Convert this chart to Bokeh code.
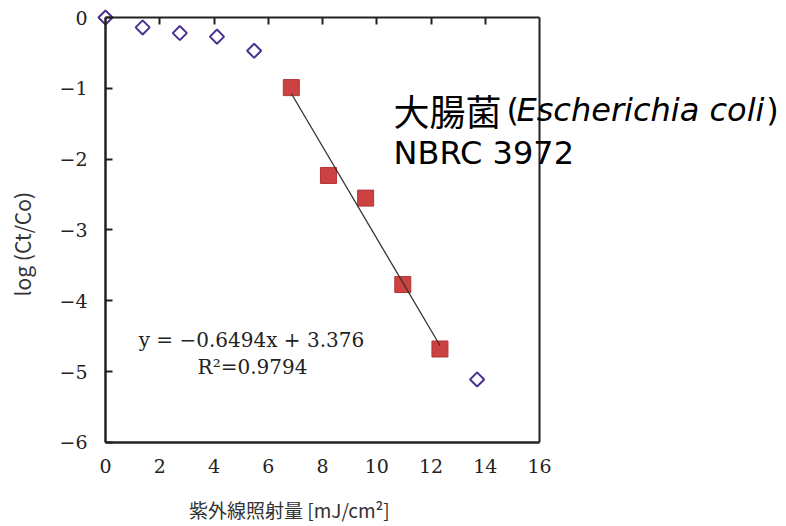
import math
from bokeh.plotting import figure
from bokeh.models import LinearAxis, FixedTicker, Range1d, Label
from bokeh.embed import file_html
from bokeh.resources import INLINE

# ---------------- data ----------------
dose_open = [0.0, 1.37, 2.74, 4.11, 5.48, 13.70]
logr_open = [0.0, -0.14, -0.22, -0.27, -0.47, -5.11]
dose_fit_pts = [6.85, 8.22, 9.59, 10.96, 12.33]
logr_fit_pts = [-0.99, -2.23, -2.55, -3.77, -4.68]
fit_slope = -0.6494
fit_intercept = 3.376
fit_r2 = 0.9794
x_ticks = [0, 2, 4, 6, 8, 10, 12, 14, 16]
y_ticks = [0, -1, -2, -3, -4, -5, -6]
y_tick_labels = ["0", "−1", "−2", "−3", "−4", "−5", "−6"]
x_title = "紫外線照射量 [mJ/cm²]"
y_title = "log (Ct/Co)"
species_cjk = "大腸菌"
species_open = "("
species_latin = "Escherichia coli"
species_close = ")"
strain = "NBRC 3972"

AX = "#222222"
SERIF = "DejaVu Serif"
W, H = 786, 526
PX_X = 27.125   # pixels per x unit
PX_Y = 70.833   # pixels per y unit
X0, Y0 = 105, 17  # pixel of the data origin

p = figure(width=W, height=H, output_backend="svg", toolbar_location=None,
           title=None, x_axis_type=None, y_axis_type=None,
           x_range=Range1d(-X0 / PX_X, (W - X0) / PX_X),
           y_range=Range1d(-(H - Y0) / PX_Y, Y0 / PX_Y),
           min_border=0)
p.outline_line_color = None
p.grid.visible = False
p.background_fill_color = "white"
p.border_fill_color = "white"

# bottom axis with labels (at y=-6)
xb = LinearAxis(fixed_location=-6, bounds=(0, 16), ticker=FixedTicker(ticks=x_ticks))
xb.major_tick_in = 0
xb.major_tick_out = 0
xb.minor_tick_line_color = None
xb.axis_line_width = 2.5
xb.axis_line_color = AX
xb.major_label_standoff = 17
xb.major_label_text_font = SERIF
xb.major_label_text_font_size = "19px"
xb.major_label_text_color = AX
p.add_layout(xb, "below")

# top axis (ticks only) drawn at y=0
xt = LinearAxis(fixed_location=0, bounds=(0, 16),
                ticker=FixedTicker(ticks=x_ticks[1:-1]))
xt.major_tick_in = 0
xt.major_tick_out = 7
xt.major_tick_line_width = 2
xt.major_tick_line_color = AX
xt.minor_tick_line_color = None
xt.axis_line_width = 2
xt.axis_line_color = AX
xt.major_label_text_color = None
p.add_layout(xt, "below")

# left axis drawn at x=0
yl = LinearAxis(fixed_location=0, bounds=(-6, 0), ticker=FixedTicker(ticks=y_ticks))
yl.major_tick_in = 7
yl.major_tick_out = 0
yl.major_tick_line_width = 2
yl.major_tick_line_color = AX
yl.minor_tick_line_color = None
yl.axis_line_width = 2.5
yl.axis_line_color = AX
yl.major_label_standoff = 18
yl.major_label_text_font = SERIF
yl.major_label_text_font_size = "19px"
yl.major_label_text_color = AX
yl.major_label_overrides = {t: s for t, s in zip(y_ticks, y_tick_labels)}
p.add_layout(yl, "left")

# right border line at x=16
yr = LinearAxis(fixed_location=16, bounds=(-6, 0), ticker=FixedTicker(ticks=[]))
yr.major_tick_in = 0
yr.major_tick_out = 0
yr.minor_tick_line_color = None
yr.axis_line_width = 2
yr.axis_line_color = AX
yr.major_label_text_color = None
p.add_layout(yr, "right")

# points
p.scatter(dose_open, logr_open, marker="square", angle=math.pi / 4, size=10,
          fill_color="white", line_color="#4b3290", line_width=2)
p.scatter(dose_fit_pts, logr_fit_pts, marker="square", size=16,
          fill_color="#cc4141", line_color="#b53434", line_width=1)

fx = [min(dose_fit_pts), max(dose_fit_pts)]
fy = [fit_slope * v + fit_intercept for v in fx]
p.line(fx, fy, line_color="#333333", line_width=1.3)

# equation text
p.add_layout(Label(x=5.38, y=-4.553, text=f"y = −{abs(fit_slope):.4f}x + {fit_intercept:.3f}",
                   text_align="center", text_baseline="alphabetic",
                   text_font=SERIF, text_font_size="20px", text_color=AX))
p.add_layout(Label(x=5.42, y=-4.941, text=f"R²={fit_r2:.4f}",
                   text_align="center", text_baseline="alphabetic",
                   text_font=SERIF, text_font_size="20px", text_color=AX))

# axis titles
p.add_layout(Label(x=6.78, y=-6.95, text=x_title, text_align="center",
                   text_baseline="middle", text_font="Noto Sans CJK JP",
                   text_font_size="19px", text_color="#333333"))
p.add_layout(Label(x=-3.06, y=-3.2, text=y_title, angle=math.pi / 2,
                   text_align="center", text_baseline="middle",
                   text_font="Noto Sans CJK JP", text_font_size="21px",
                   text_color="#333333"))

# species annotation
p.add_layout(Label(x=10.62, y=-1.30, text=species_cjk, text_align="left",
                   text_baseline="alphabetic", text_font="Noto Sans CJK JP",
                   text_font_size="36px", text_color="black"))
p.add_layout(Label(x=14.78, y=-1.30, text=species_open, text_align="left",
                   text_baseline="alphabetic", text_font="DejaVu Sans",
                   text_font_size="32px", text_color="black"))
p.add_layout(Label(x=15.15, y=-1.30, text=species_latin, text_align="left",
                   text_baseline="alphabetic", text_font="DejaVu Sans",
                   text_font_style="italic", text_font_size="32px",
                   text_color="black"))
p.add_layout(Label(x=24.36, y=-1.30, text=species_close, text_align="left",
                   text_baseline="alphabetic", text_font="DejaVu Sans",
                   text_font_size="32px", text_color="black"))
p.add_layout(Label(x=10.62, y=-1.906, text=strain, text_align="left",
                   text_baseline="alphabetic", text_font="DejaVu Sans",
                   text_font_size="32px", text_color="black"))

open("out.html", "w").write(file_html(p, INLINE))
